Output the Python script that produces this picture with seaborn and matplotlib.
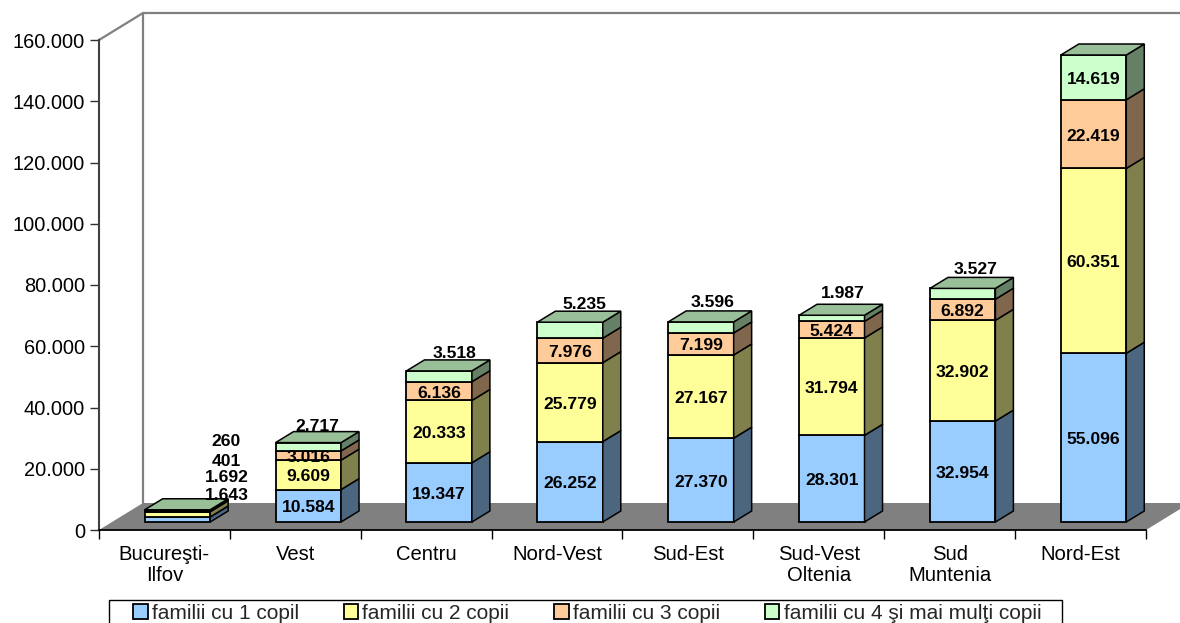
import numpy as np
import pandas as pd
import matplotlib
matplotlib.use("Agg")
import matplotlib.pyplot as plt
import matplotlib.colors as mcolors
from matplotlib.patches import Polygon, Rectangle
from matplotlib.ticker import FuncFormatter
from matplotlib.transforms import Affine2D
import seaborn as sns

regiuni = ["Bucureşti-\nIlfov", "Vest", "Centru", "Nord-Vest", "Sud-Est",
           "Sud-Vest\nOltenia", "Sud\nMuntenia", "Nord-Est"]
copil_1 = [1643, 10584, 19347, 26252, 27370, 28301, 32954, 55096]
copii_2 = [1692, 9609, 20333, 25779, 27167, 31794, 32902, 60351]
copii_3 = [401, 3016, 6136, 7976, 7199, 5424, 6892, 22419]
copii_4 = [260, 2717, 3518, 5235, 3596, 1987, 3527, 14619]
serii = ["familii cu 1 copil", "familii cu 2 copii", "familii cu 3 copii",
         "familii cu 4 şi mai mulţi copii"]
culori = ["#99CCFF", "#FFFF99", "#FFCC99", "#CCFFCC"]

sns.set_theme(style="white")
plt.rcParams["font.family"] = ["Liberation Sans", "DejaVu Sans"]

fig = plt.figure(figsize=(11.8, 6.23), dpi=100)
ax = fig.add_axes([99 / 1180, 1 - 530 / 623, 1047 / 1180, 490 / 623])

# "adancimea" graficului 3D, in unitati de date
PERETE_DX, PERETE_DY = 0.336, 8816
BARA_DX, BARA_DY = 0.1375, 3592
MUTARE_DX, MUTARE_DY = 0.0993, 2612
mutare = Affine2D().translate(MUTARE_DX, MUTARE_DY) + ax.transData

valori = [copil_1, copii_2, copii_3, copii_4]
df = pd.DataFrame({"regiune": regiuni})
baza = np.zeros(len(regiuni))
for nume, val, culoare in zip(serii, valori, culori):
    df["valoare"] = val
    n_inainte = len(ax.patches)
    sns.barplot(data=df, x="regiune", y="valoare", order=regiuni, bottom=baza,
                color=culoare, saturation=1, width=0.5, edgecolor="black",
                linewidth=1.3, zorder=3, label=nume, ax=ax)
    latura = np.array(mcolors.to_rgb(culoare)) * 0.5
    sus = np.array(mcolors.to_rgb(culoare)) * 0.75
    este_ultima = nume == serii[-1]
    for p in ax.patches[n_inainte:]:
        p.set_transform(mutare)
        p.set_clip_on(False)
        x0, x1 = p.get_x(), p.get_x() + p.get_width()
        y0, y1 = p.get_y(), p.get_y() + p.get_height()
        fata = [(x1, y0), (x1 + BARA_DX, y0 + BARA_DY), (x1 + BARA_DX, y1 + BARA_DY), (x1, y1)]
        ax.add_patch(Polygon(fata, closed=True, facecolor=latura, edgecolor="black", lw=1.1,
                             zorder=3, transform=mutare, clip_on=False))
        if este_ultima:
            capac = [(x0, y1), (x1, y1), (x1 + BARA_DX, y1 + BARA_DY), (x0 + BARA_DX, y1 + BARA_DY)]
            ax.add_patch(Polygon(capac, closed=True, facecolor=sus, edgecolor="black", lw=1.1,
                                 zorder=3, transform=mutare, clip_on=False))
    baza = baza + np.array(val)

ax.set_xlim(-0.5, 7.5)
ax.set_ylim(0, 160000)

# podeaua si peretii din spate
podea = [(-0.5, 0), (7.5, 0), (7.5 + PERETE_DX, PERETE_DY), (-0.5 + PERETE_DX, PERETE_DY)]
ax.add_patch(Polygon(podea, closed=True, facecolor="#808080", edgecolor="none", zorder=1, clip_on=False))
perete = dict(color="#808080", lw=1.6, zorder=1.5, clip_on=False)
ax.plot([-0.5 + PERETE_DX] * 2, [PERETE_DY, 160000 + PERETE_DY], **perete)
ax.plot([-0.5, -0.5 + PERETE_DX, 7.5 + PERETE_DX], [160000, 160000 + PERETE_DY, 160000 + PERETE_DY], **perete)
ax.set_xlim(-0.5, 7.5)
ax.set_ylim(0, 160000)

# etichetele de valori
stil_text = dict(ha="center", va="center", fontsize=12.6, fontweight="bold", color="black",
                 zorder=6, annotation_clip=False)
baza = np.zeros(len(regiuni))
for j, val in enumerate(valori):
    for i, v in enumerate(val):
        text = f"{v:,}".replace(",", ".")
        mijloc = baza[i] + v / 2
        if i == 0:
            continue
        if j == 3 and i < 7:
            continue
        ax.annotate(text, xy=(i, mijloc), xycoords=mutare, xytext=(0, -2),
                    textcoords="offset pixels", **stil_text)
    baza = baza + np.array(val)

# cele de deasupra coloanelor (mutate de mana, ca in original)
sus_dx = [9, 15, 14, 12, 11, 13]
sus_dy = [16, 17, 18, 19, 22, 19]
for i in range(1, 7):
    ax.annotate(f"{copii_4[i]:,}".replace(",", "."), xy=(i, baza[i]), xycoords=mutare,
                xytext=(sus_dx[i - 1], sus_dy[i - 1]), textcoords="offset pixels", **stil_text)
urcare = [14, 32, 48, 68]
for j, val in enumerate(valori):
    ax.annotate(f"{val[0]:,}".replace(",", "."), xy=(0, baza[0]), xycoords=mutare,
                xytext=(49, urcare[j]), textcoords="offset pixels", **stil_text)

# axe
sns.despine(ax=ax, top=True, right=True)
ax.spines["left"].set_color("#404040")
ax.spines["left"].set_linewidth(1.5)
ax.spines["bottom"].set_color("black")
ax.spines["bottom"].set_linewidth(1.3)
ax.spines["left"].set_zorder(2)
ax.spines["bottom"].set_zorder(2)
ax.set_xlabel("")
ax.set_ylabel("")
ax.set_yticks(np.arange(0, 160001, 20000))
ax.yaxis.set_major_formatter(FuncFormatter(lambda v, _: f"{int(v):,}".replace(",", ".")))
ax.tick_params(axis="y", left=True, length=6.5, width=1, color="#303030", pad=3.5, labelsize=14.4, labelcolor="black")
ax.set_xticks(range(len(regiuni)))
ax.set_xticklabels(regiuni, fontsize=14.6, color="black", linespacing=1.1)
ax.set_xticks(np.arange(-0.5, 8), minor=True)
ax.tick_params(axis="x", which="major", bottom=False, pad=5)
ax.tick_params(axis="x", which="minor", bottom=True, length=6.5, width=1, color="black")

# legenda, cu chenarul desenat separat
handles, labels = ax.get_legend_handles_labels()
fig.add_artist(Rectangle((109 / 1180, -0.01), 953 / 1180, 1 - 600 / 623 + 0.01, transform=fig.transFigure,
                         facecolor="white", edgecolor="black", lw=1, zorder=-1))
leg = ax.legend(handles, labels, ncol=4, loc="upper left", bbox_to_anchor=(133 / 1180, 1 - 604 / 623),
                bbox_transform=fig.transFigure, borderaxespad=0, frameon=False, fontsize=15,
                handlelength=0.7, handleheight=0.7, handletextpad=0.2, columnspacing=2.15,
                borderpad=0, labelspacing=0.2)
leg.set_zorder(8)

fig.savefig("out.png", dpi=100)
